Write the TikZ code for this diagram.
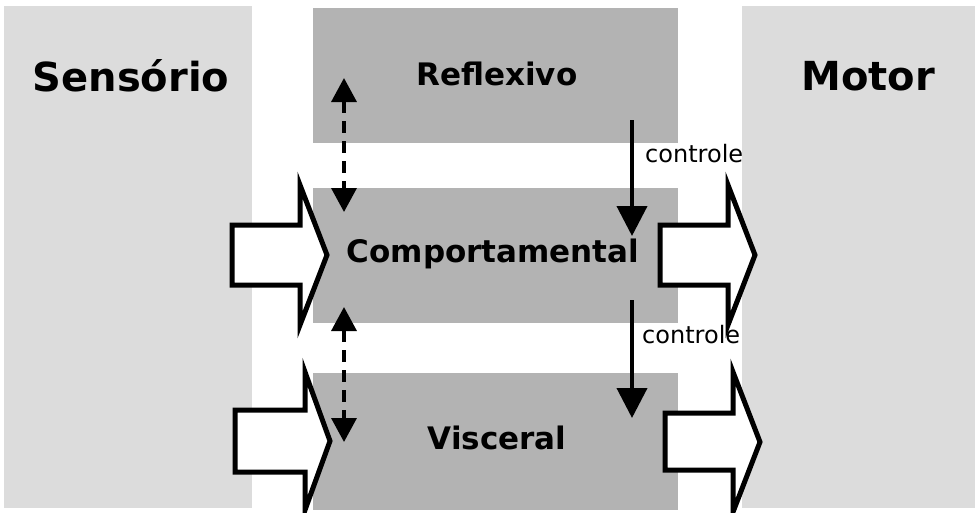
\documentclass[tikz,border=0pt]{standalone}
\usepackage{fontspec}
\setmainfont{DejaVu Sans}
\usetikzlibrary{arrows.meta}
\definecolor{sidegray}{HTML}{DCDCDC}
\definecolor{layergray}{HTML}{B3B3B3}
\begin{document}
\begin{tikzpicture}[x=1pt,y=-1pt,
  side/.style={fill=sidegray,draw=none},
  layer/.style={fill=layergray,draw=none},
  bigtitle/.style={font=\fontsize{40}{44}\selectfont\bfseries},
  layertitle/.style={font=\fontsize{31}{35}\selectfont\bfseries},
  ctrltext/.style={font=\fontsize{24}{28}\selectfont, inner sep=0pt},
  blockarrow/.style={draw=black,fill=white,line width=5pt,miter limit=20},
  ctrl/.style={line width=4pt,-{Triangle[width=30pt,length=30pt]}},
  link/.style={line width=3.5pt,dash pattern=on 12pt off 8pt,
    {Triangle[width=25pt,length=24pt]}-{Triangle[width=25pt,length=24pt]}}]
\useasboundingbox (0,0) rectangle (975,512);
\fill[white] (0,0) rectangle (975,512);

% side panels
\fill[side] (4,6) rectangle (252,508);
\fill[side] (742,6) rectangle (975,508);
\node[bigtitle] (sens) at (131,76) {Sensório};
\node[bigtitle] (motor) at (868,76) {Motor};

% the three layers
\fill[layer] (313,8) rectangle (678,143);
\fill[layer] (313,188) rectangle (678,323);
\fill[layer] (313,373) rectangle (678,510);
\node[layertitle] (refl) at (497,74) {Reflexivo};
\node[layertitle] (comp) at (493,254) {Comportamental};
\node[layertitle] (visc) at (497,438) {Visceral};

% block arrows: input from the senses, output to the motor side
\draw[blockarrow] (232,225) -- (300,225) -- (300,185) -- (327,255)
  -- (300,325) -- (300,285) -- (232,285) -- cycle;
\draw[blockarrow] (235,410) -- (305,410) -- (305,372) -- (330,441)
  -- (305,510) -- (305,472) -- (235,472) -- cycle;
\draw[blockarrow] (660,225) -- (728,225) -- (728,185) -- (755,255)
  -- (728,325) -- (728,285) -- (660,285) -- cycle;
\draw[blockarrow] (665,413) -- (733,413) -- (733,372) -- (760,442)
  -- (733,512) -- (733,470) -- (665,470) -- cycle;

% control arrows between layers
\coordinate (c1s) at (632,120);
\coordinate (c1e) at (632,236);
\coordinate (c2s) at (632,300);
\coordinate (c2e) at (632,418);
\draw[ctrl] (c1s) -- (c1e);
\draw[ctrl] (c2s) -- (c2e);
\node[ctrltext,anchor=west] (lab1) at (645,154) {controle};
\node[ctrltext,anchor=west] (lab2) at (642,335) {controle};

% dashed two-way links
\coordinate (d1a) at (344,78);
\coordinate (d1b) at (344,212);
\coordinate (d2a) at (344,307);
\coordinate (d2b) at (344,442);
\draw[link] (d1a) -- (d1b);
\draw[link] (d2a) -- (d2b);
\end{tikzpicture}
\end{document}
